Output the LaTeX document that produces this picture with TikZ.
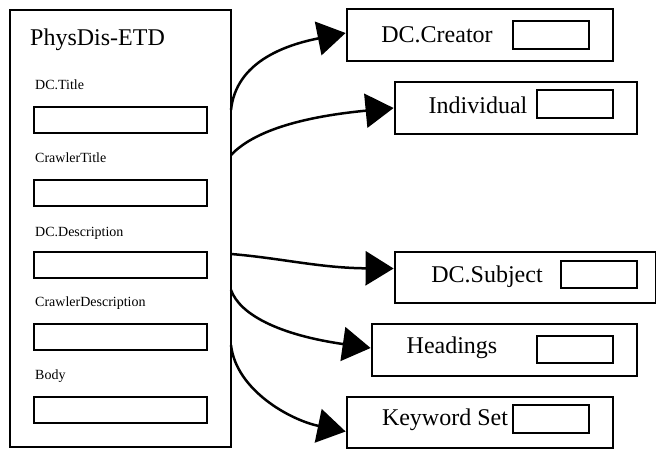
\documentclass[tikz,border=0pt]{standalone}
\usepackage{fontspec}
\setmainfont{Liberation Serif}
\usetikzlibrary{arrows.meta}

\begin{document}
\begin{tikzpicture}[x=1pt, y=-1pt,
    bigbox/.style={draw, line width=2.8pt, inner sep=0pt},
    field/.style={draw, line width=2.8pt, minimum width=173pt, minimum height=26pt, inner sep=0pt},
    slot/.style={draw, line width=2.8pt, minimum width=76pt, minimum height=28pt, inner sep=0pt},
    lbl/.style={font=\fontsize{14}{16}\selectfont, anchor=west, inner sep=0pt},
    big/.style={font=\fontsize{24}{27}\selectfont, inner sep=0pt},
    link/.style={line width=2.5pt, -{Triangle[length=28pt,width=34pt]}}]
    \useasboundingbox (0,0) rectangle (656,449);
    % left record
    \node [bigbox, minimum width=221pt, minimum height=437pt] (etd) at (120.5,228.5) {};
    \node [big, anchor=west] (etdname) at (30,40) {PhysDis-ETD};
    \node [lbl] (l1) at (35,85) {DC.Title};
    \node [field] (f1) at (120.5,120) {};
    \node [lbl] (l2) at (35,158) {CrawlerTitle};
    \node [field] (f2) at (120.5,193) {};
    \node [lbl] (l3) at (35,233) {DC.Description};
    \node [field] (f3) at (120.5,265) {};
    \node [lbl] (l4) at (35,303) {CrawlerDescription};
    \node [field] (f4) at (120.5,337) {};
    \node [lbl] (l5) at (35,376) {Body};
    \node [field] (f5) at (120.5,410) {};
    % right records
    \node [bigbox, minimum width=266pt, minimum height=52pt] (creator) at (480,35) {};
    \node [big] at (437,35) {DC.Creator};
    \node [slot] (creatorslot) at (551,35) {};
    \node [bigbox, minimum width=242pt, minimum height=52pt] (indiv) at (516,108) {};
    \node [big] at (478,105) {Individual};
    \node [slot] (indivslot) at (575,104) {};
    \node [bigbox, minimum width=261pt, minimum height=51pt] (subject) at (525.5,277.5) {};
    \node [big] at (487,277) {DC.Subject};
    \node [slot, minimum height=27pt] (subjectslot) at (599,274.5) {};
    \node [bigbox, minimum width=265pt, minimum height=52pt] (headings) at (504.5,350) {};
    \node [big] at (452,348) {Headings};
    \node [slot, minimum height=27pt] (headingsslot) at (575,349.5) {};
    \node [bigbox, minimum width=266pt, minimum height=51pt] (keyword) at (480,422.5) {};
    \node [big] at (445,420) {Keyword Set};
    \node [slot] (keywordslot) at (551,419) {};
    % links
    \coordinate (o1) at (231,110);
    \coordinate (o2) at (231,155);
    \coordinate (o3) at (231,254);
    \coordinate (o4) at (231,290);
    \coordinate (o5) at (231,345);
    \draw [link] (o1) .. controls (236,62) and (285,45) .. ([yshift=2pt]creator.west);
    \draw [link] (o2) .. controls (250,135) and (290,118) .. (indiv.west);
    \draw [link] (o3) .. controls (280,258) and (320,268) .. ([yshift=9pt]subject.west);
    \draw [link] (o4) .. controls (240,315) and (280,335) .. ([yshift=2pt]headings.west);
    \draw [link] (o5) .. controls (236,390) and (290,420) .. ([yshift=-9pt]keyword.west);
\end{tikzpicture}
\end{document}
